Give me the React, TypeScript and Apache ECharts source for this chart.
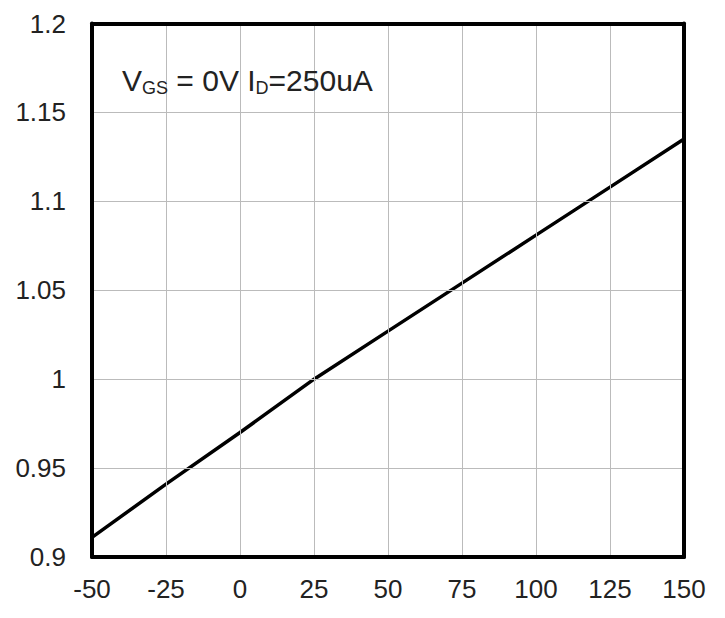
import React, { useEffect, useRef } from "react";
import * as echarts from "echarts";

const temps = [-50, -25, 0, 25, 50, 75, 100, 125, 150];
const bvdss = [0.911, 0.941, 0.97, 1.0, 1.027, 1.054, 1.081, 1.108, 1.135];
const xTicks = { min: -50, max: 150, interval: 25 };
const yTicks = { min: 0.9, max: 1.2, interval: 0.05 };

export default function App() {
  const ref = useRef<HTMLDivElement>(null);
  useEffect(() => {
    const chart = echarts.init(ref.current!, null, { renderer: "svg" });
    const font = "'Liberation Sans', Arial, sans-serif";
    const frame = { show: true, onZero: false, lineStyle: { color: "#000", width: 4 } };
    const hidden = { show: false };
    chart.setOption({
      animation: false,
      backgroundColor: "#fff",
      grid: {
        left: 92,
        top: 23.5,
        right: 41,
        bottom: 61,
        containLabel: false,
      },
      xAxis: [
        {
          type: "value",
          min: xTicks.min,
          max: xTicks.max,
          interval: xTicks.interval,
          position: "bottom",
          axisLine: frame,
          axisTick: hidden,
          axisLabel: {
            color: "#222",
            fontSize: 26,
            fontFamily: font,
            margin: 19,
            formatter: (v: number) => String(v),
          },
          splitLine: { show: true, lineStyle: { color: "#bbb", width: 1 } },
          z: 5,
        },
        {
          type: "value",
          min: xTicks.min,
          max: xTicks.max,
          interval: xTicks.interval,
          position: "top",
          axisLine: frame,
          axisTick: hidden,
          axisLabel: hidden,
          splitLine: hidden,
          z: 5,
        },
      ],
      yAxis: [
        {
          type: "value",
          min: yTicks.min,
          max: yTicks.max,
          interval: yTicks.interval,
          position: "left",
          axisLine: frame,
          axisTick: hidden,
          axisLabel: {
            color: "#222",
            fontSize: 26,
            fontFamily: font,
            margin: 26,
            formatter: (v: number) => String(parseFloat(v.toFixed(2))),
          },
          splitLine: { show: true, lineStyle: { color: "#bbb", width: 1 } },
          z: 5,
        },
        {
          type: "value",
          min: yTicks.min,
          max: yTicks.max,
          interval: yTicks.interval,
          position: "right",
          axisLine: frame,
          axisTick: hidden,
          axisLabel: hidden,
          splitLine: hidden,
          z: 5,
        },
      ],
      series: [
        {
          type: "line",
          data: temps.map((t, i) => [t, bvdss[i]]),
          showSymbol: false,
          symbol: "none",
          lineStyle: { color: "#000", width: 3.5 },
          z: 3,
        },
      ],
      graphic: [
        {
          type: "text",
          left: 122,
          top: 65,
          z: 10,
          style: {
            text: "{a|V}{b|GS}{a| = 0V I}{b|D}{a|=250uA}",
            fill: "#222",
            fontFamily: font,
            rich: {
              a: { fontSize: 30, fontFamily: font, fill: "#222", lineHeight: 34, verticalAlign: "bottom" },
              b: { fontSize: 18, fontFamily: font, fill: "#222", lineHeight: 34, verticalAlign: "bottom", padding: [0, 0, -2, 0] },
            },
          },
        },
      ],
    });
    return () => chart.dispose();
  }, []);
  return <div ref={ref} style={{ width: 725, height: 618, margin: -8 }} />;
}
